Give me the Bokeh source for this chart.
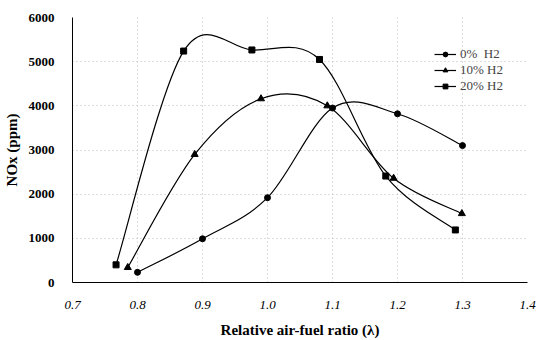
import numpy as np
from bokeh.plotting import figure
from bokeh.models import ColumnDataSource, Legend, LegendItem, FixedTicker
from bokeh.embed import file_html
from bokeh.resources import INLINE

# data
lam_0 = [0.80, 0.90, 1.00, 1.10, 1.20, 1.30]
nox_0 = [230, 990, 1920, 3950, 3820, 3100]
lam_10 = [0.785, 0.888, 0.990, 1.092, 1.194, 1.299]
nox_10 = [340, 2900, 4160, 4000, 2360, 1560]
lam_20 = [0.767, 0.871, 0.976, 1.080, 1.182, 1.289]
nox_20 = [400, 5240, 5265, 5050, 2410, 1190]
labels = ["0%  H2", "10% H2", "20% H2"]
x_ticks = [0.7, 0.8, 0.9, 1.0, 1.1, 1.2, 1.3, 1.4]
y_ticks = [0, 1000, 2000, 3000, 4000, 5000, 6000]

SERIF = "Liberation Serif"

p = figure(width=541, height=340, output_backend="svg", toolbar_location=None,
           x_range=(0.7, 1.4), y_range=(0, 6000),
           min_border_left=72, min_border_right=14, min_border_top=17, min_border_bottom=57)
p.outline_line_color = None
p.background_fill_color = "white"


def smooth_source(xs, ys, t=1/6):
    xs = np.asarray(xs, float); ys = np.asarray(ys, float)
    n = len(xs)
    d = dict(x0=[], y0=[], x1=[], y1=[], cx0=[], cy0=[], cx1=[], cy1=[])
    for i in range(n - 1):
        ip = max(i - 1, 0); inx = min(i + 2, n - 1)
        d["x0"].append(xs[i]); d["y0"].append(ys[i])
        d["x1"].append(xs[i + 1]); d["y1"].append(ys[i + 1])
        d["cx0"].append(xs[i] + (xs[i + 1] - xs[ip]) * t)
        d["cy0"].append(ys[i] + (ys[i + 1] - ys[ip]) * t)
        d["cx1"].append(xs[i + 1] - (xs[inx] - xs[i]) * t)
        d["cy1"].append(ys[i + 1] - (ys[inx] - ys[i]) * t)
    return ColumnDataSource(d)


items = []
for xs, ys, marker, lab in [(lam_0, nox_0, "circle", labels[0]),
                            (lam_10, nox_10, "triangle", labels[1]),
                            (lam_20, nox_20, "square", labels[2])]:
    src = smooth_source(xs, ys)
    b = p.bezier(x0="x0", y0="y0", x1="x1", y1="y1", cx0="cx0", cy0="cy0",
                 cx1="cx1", cy1="cy1", source=src, line_color="black", line_width=1.2)
    s = p.scatter(xs, ys, marker=marker, size=6 if marker != "triangle" else 7,
                  fill_color="black", line_color="black")
    items.append(LegendItem(label=lab, renderers=[b, s]))

legend = Legend(items=items, location=(362, 188), background_fill_alpha=0,
                border_line_color=None, label_text_font=SERIF, label_text_font_size="13px",
                glyph_width=22, glyph_height=12, label_height=12, spacing=0, padding=0,
                margin=0, label_standoff=4)
p.add_layout(legend)

p.xaxis.ticker = FixedTicker(ticks=x_ticks)
p.yaxis.ticker = FixedTicker(ticks=y_ticks)
p.xaxis.major_label_overrides = {v: f"{v:.1f}" for v in x_ticks}
for ax in (p.xaxis, p.yaxis):
    ax.major_label_text_font = SERIF
    ax.major_label_text_font_size = "13px"
    ax.major_label_text_color = "black"
    ax.axis_line_color = "black"
    ax.axis_line_width = 1
    ax.major_tick_line_color = None
    ax.minor_tick_line_color = None
    ax.axis_label_text_font = SERIF
    ax.axis_label_text_font_style = "bold"
    ax.axis_label_text_font_size = "15px"
    ax.axis_label_text_color = "black"
p.xaxis.major_label_text_font_style = "italic"
p.yaxis.major_label_text_font_style = "bold"
p.xaxis.major_label_standoff = 12
p.yaxis.major_label_standoff = 12
p.xaxis.axis_label = "Relative air-fuel ratio (λ)"
p.yaxis.axis_label = "NOx (ppm)"
p.xaxis.axis_label_standoff = 10
p.yaxis.axis_label_standoff = 6

p.xgrid.ticker = FixedTicker(ticks=x_ticks)
p.ygrid.ticker = FixedTicker(ticks=y_ticks)
for g in (p.xgrid, p.ygrid):
    g.grid_line_color = "#bbbbbb"
    g.grid_line_dash = "1 3"
    g.grid_line_width = 1

open("out.html", "w").write(file_html(p, INLINE))
